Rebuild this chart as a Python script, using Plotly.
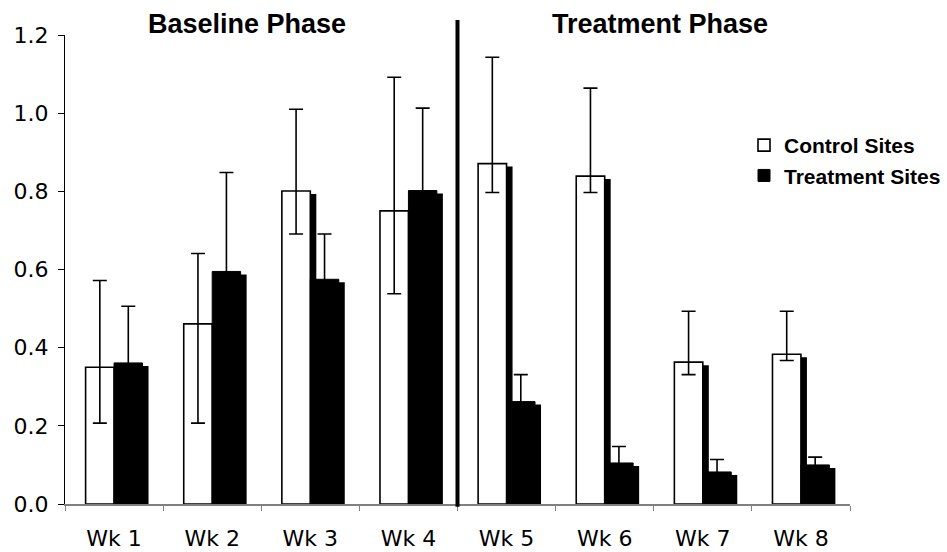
import plotly.graph_objects as go

# ---------------- data ----------------
weeks = ["Wk 1", "Wk 2", "Wk 3", "Wk 4", "Wk 5", "Wk 6", "Wk 7", "Wk 8"]
control = [0.350, 0.461, 0.801, 0.750, 0.871, 0.839, 0.363, 0.383]
control_upper = [0.572, 0.641, 1.010, 1.092, 1.143, 1.064, 0.493, 0.493]
control_lower = [0.207, 0.207, 0.691, 0.538, 0.797, 0.797, 0.331, 0.367]
treatment = [0.361, 0.595, 0.575, 0.802, 0.262, 0.105, 0.082, 0.100]
treatment_upper = [0.506, 0.848, 0.691, 1.013, 0.331, 0.147, 0.114, 0.120]
y_ticks = [0.0, 0.2, 0.4, 0.6, 0.8, 1.0, 1.2]
phase_titles = ["Baseline Phase", "Treatment Phase"]
phase_split = "Wk 5"
series_names = ["Control Sites", "Treatment Sites"]

# ---------------- layout geometry / style ----------------
W, H = 947, 552
M_L, M_R, M_T, M_B = 65, 97, 35, 48
plot_w = W - M_L - M_R
plot_h = H - M_T - M_B
y_max = y_ticks[-1]
n = len(weeks)
SHADOW_DX_PX, SHADOW_DY_PX = 6, 3
sx = SHADOW_DX_PX / (plot_w / n)
sy = SHADOW_DY_PX * y_max / plot_h

ctrl_plus = [u - v for u, v in zip(control_upper, control)]
ctrl_minus = [v - l for v, l in zip(control, control_lower)]
trt_plus = [u - v for u, v in zip(treatment_upper, treatment)]

fig = go.Figure()

# drop shadows (base axis, shifted right and slightly down)
for vals in (control, treatment):
    fig.add_trace(go.Bar(
        x=weeks, y=[v - sy for v in vals], xaxis="x", yaxis="y",
        marker=dict(color="black", line=dict(width=0)),
        showlegend=False, hoverinfo="skip"))

err_style = dict(type="data", color="black", thickness=1.6, width=7, visible=True)

fig.add_trace(go.Bar(
    x=weeks, y=control, name="<b>%s</b>" % series_names[0], xaxis="x2", yaxis="y",
    marker=dict(color="white", line=dict(color="black", width=1.6)),
    error_y=dict(array=ctrl_plus, arrayminus=ctrl_minus, symmetric=False, **err_style),
    legendgroup="c"))
fig.add_trace(go.Bar(
    x=weeks, y=treatment, name="<b>%s</b>" % series_names[1], xaxis="x2", yaxis="y",
    marker=dict(color="black", line=dict(color="black", width=1)),
    error_y=dict(array=trt_plus, symmetric=True, **err_style),
    legendgroup="t"))

split_x = weeks.index(phase_split) - 0.5
fig.add_shape(type="line", xref="x2", yref="paper", x0=split_x, x1=split_x,
              y0=-0.006, y1=(plot_h + M_T - 20) / plot_h,
              line=dict(color="black", width=4), layer="above")

title_font = dict(family="Liberation Sans", size=27, color="black")
title_y = (plot_h + M_T - 24) / plot_h
fig.add_annotation(text="<b>%s</b>" % phase_titles[0], xref="paper", yref="paper",
                   x=(247 - M_L) / plot_w, y=title_y,
                   showarrow=False, font=title_font, xanchor="center", yanchor="middle")
fig.add_annotation(text="<b>%s</b>" % phase_titles[1], xref="paper", yref="paper",
                   x=(660 - M_L) / plot_w, y=title_y,
                   showarrow=False, font=title_font, xanchor="center", yanchor="middle")

tick_font = dict(family="DejaVu Sans", size=22, color="black")

fig.update_layout(
    width=W, height=H,
    margin=dict(l=M_L, r=M_R, t=M_T, b=M_B, autoexpand=False),
    paper_bgcolor="white", plot_bgcolor="white",
    barmode="group", bargap=0.42, bargroupgap=0.0,
    showlegend=True,
    legend=dict(x=(744 - M_L) / plot_w, y=(plot_h + M_T - 125) / plot_h,
                xanchor="left", yanchor="top",
                font=dict(family="Liberation Sans", size=21, color="black"),
                bgcolor="rgba(0,0,0,0)", traceorder="normal",
                tracegroupgap=0, itemclick=False),
    xaxis=dict(type="category", categoryorder="array", categoryarray=weeks,
               range=[-0.5 - sx, n - 0.5 - sx], visible=False, fixedrange=True),
    xaxis2=dict(type="category", categoryorder="array", categoryarray=weeks,
                overlaying="x", anchor="y", side="bottom",
                range=[-0.5, n - 0.5],
                showline=True, linecolor="#808080", linewidth=1.5,
                ticks="outside", tickson="boundaries", ticklen=5,
                tickcolor="#808080", tickwidth=1,
                tickfont=tick_font, ticklabelstandoff=14,
                showgrid=False, zeroline=False, automargin=False),
    yaxis=dict(range=[0, y_max], tickvals=y_ticks, tickformat=".1f",
               showline=True, linecolor="black", linewidth=1,
               ticks="outside", ticklen=6, tickcolor="black",
               tickfont=tick_font, ticklabelstandoff=5,
               showgrid=False, zeroline=False,
               automargin=False, layer="below traces"),
)

fig.write_html("out.html",
               config={"displayModeBar": False, "staticPlot": True},
               post_script="document.body.style.margin='0px';document.body.style.overflow='hidden';")
